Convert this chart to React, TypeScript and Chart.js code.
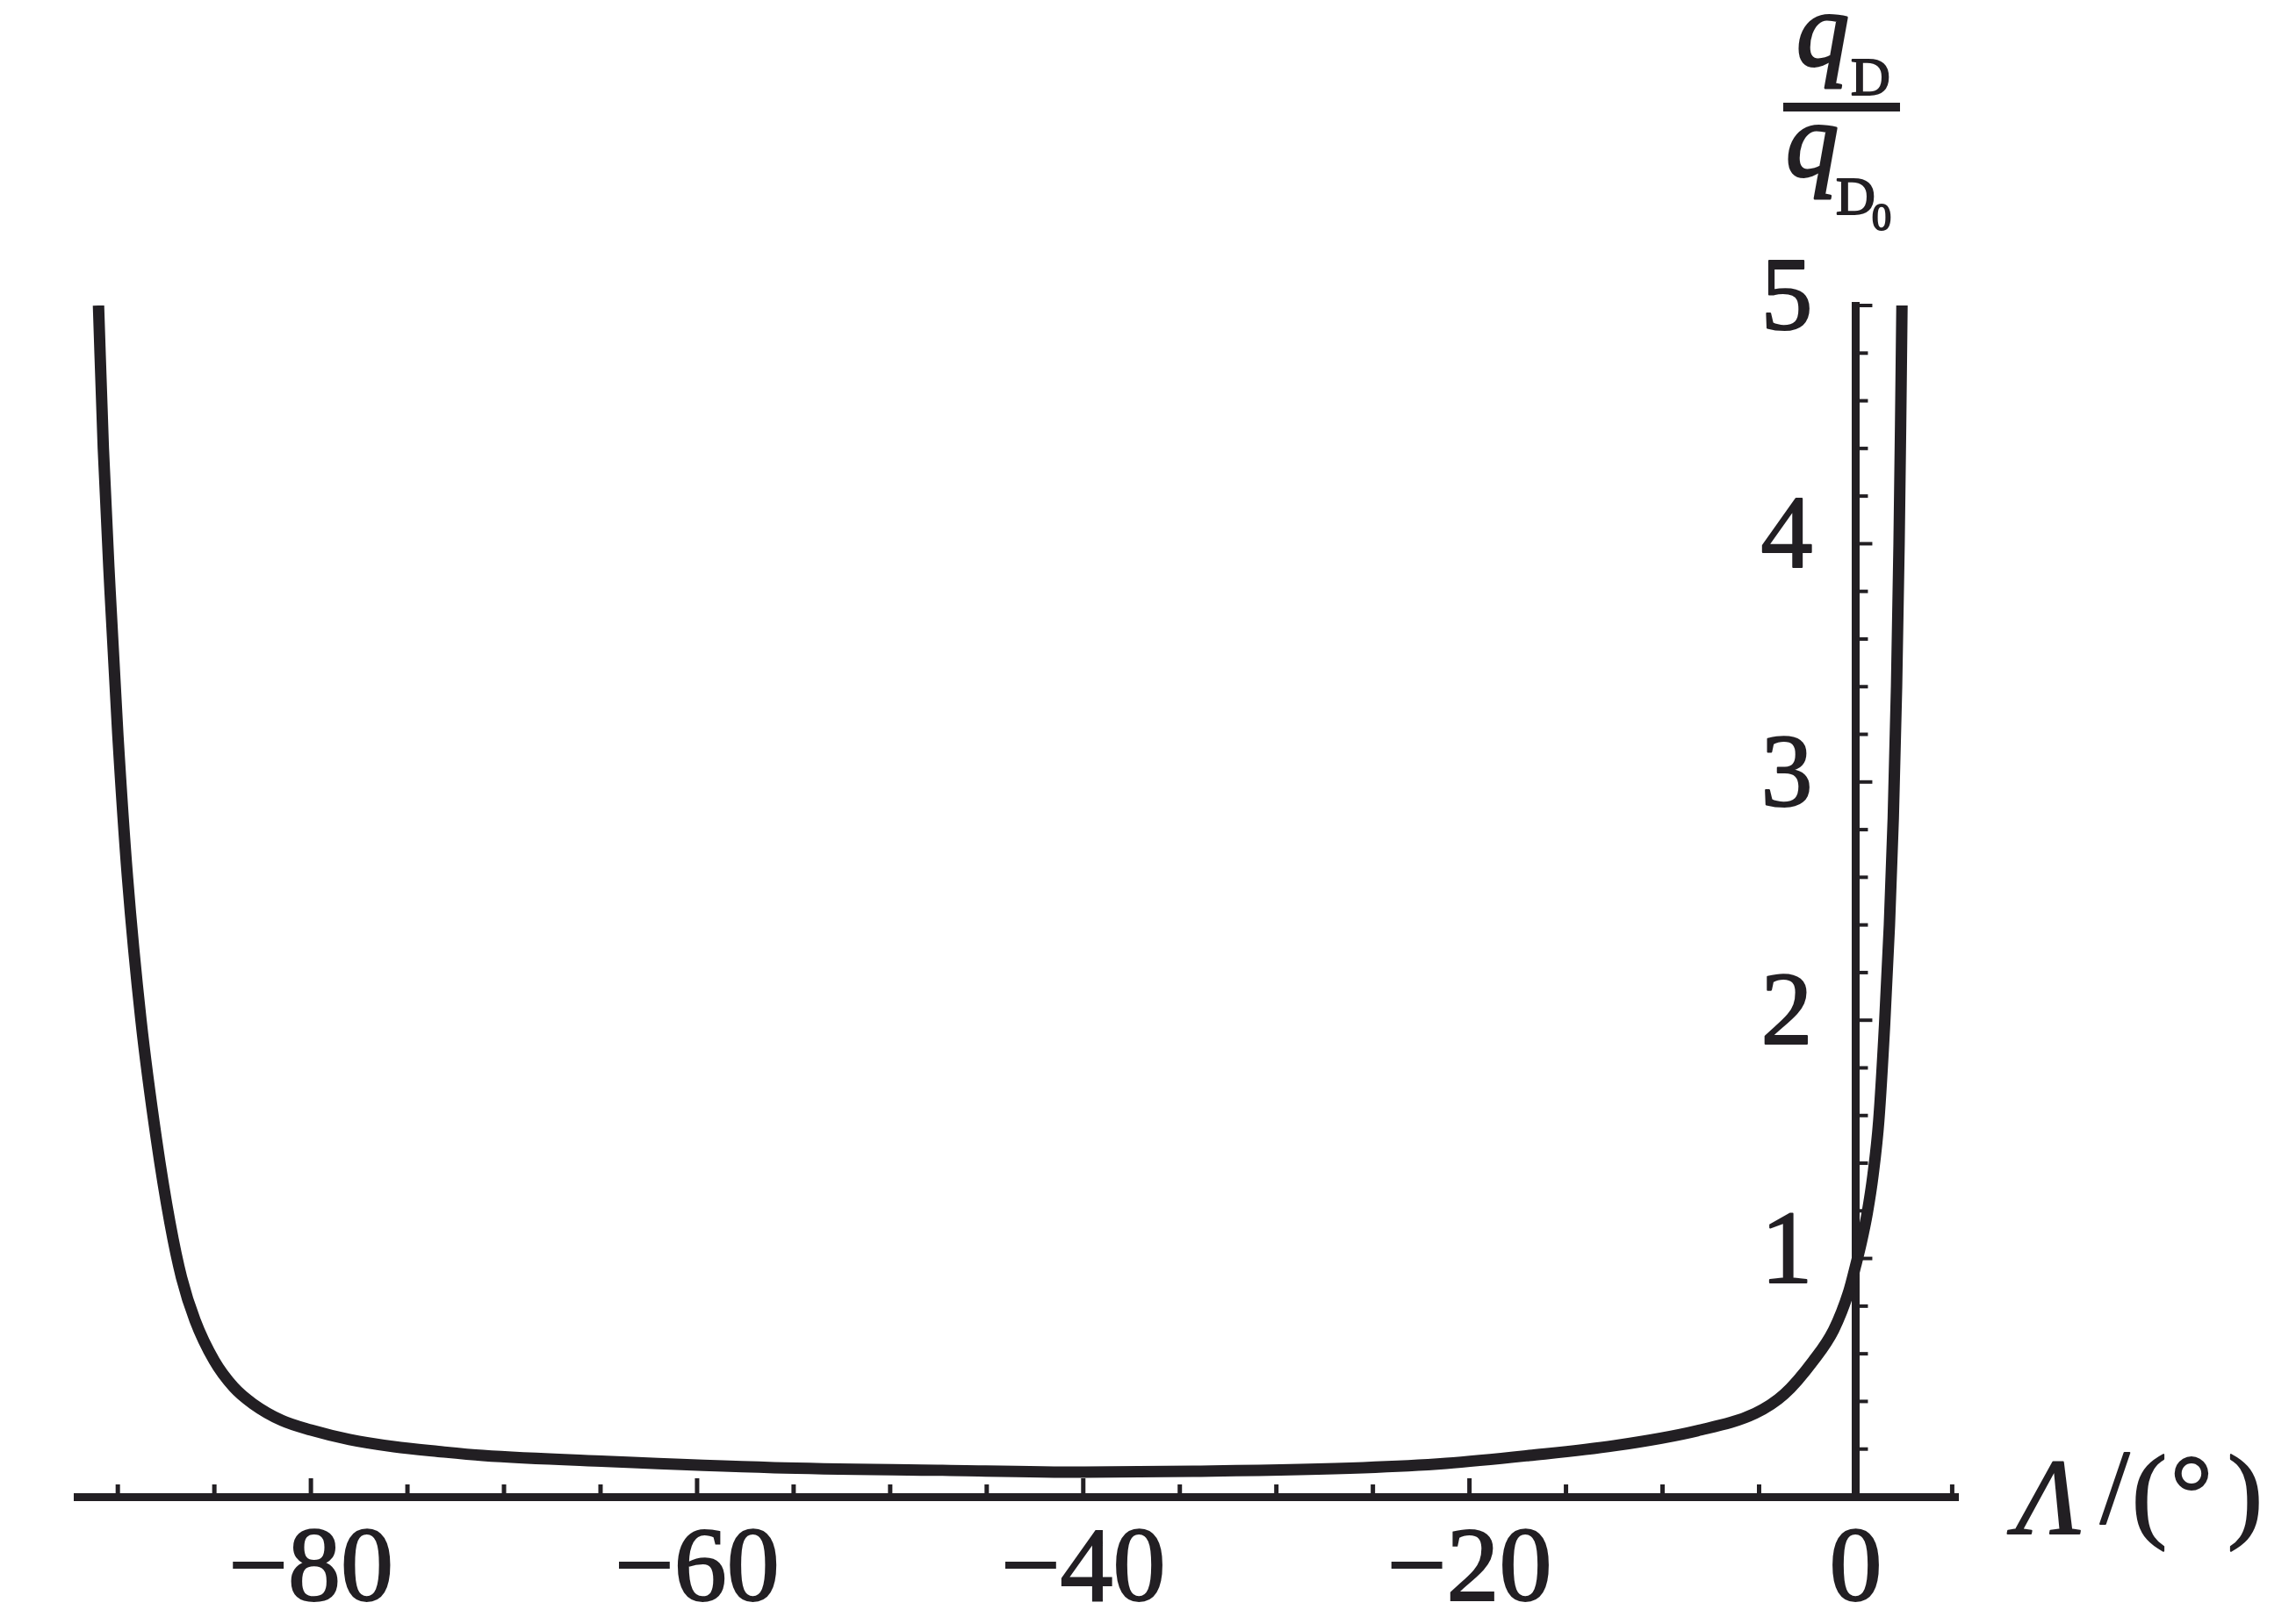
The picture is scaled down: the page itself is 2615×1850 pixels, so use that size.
import React, { useEffect, useRef } from "react";
import { Chart, registerables } from "chart.js";

Chart.register(...registerables);

// Sweep angle Λ (degrees) and q_D / q_D0
const lambdaDeg = [
  -91.0, -90.75, -90.4, -90.0, -89.5, -88.8, -88.0, -87.3, -86.7, -86.0,
  -85.0, -84.0, -83.0, -81.5, -80.0, -78.0, -75.7, -73.4, -71.1, -64.7,
  -56.0, -47.3, -40.0, -34.3, -25.5, -21.2, -16.9, -12.5, -8.2, -5.2,
  -3.7, -2.2, -1.14, -0.36, 0.0, 0.3, 0.6, 0.9, 1.2, 1.5,
  1.75, 1.95, 2.12, 2.25, 2.33, 2.4,
];
const qRatio = [
  5.0, 4.4, 3.8, 3.2, 2.6, 2.0, 1.5, 1.15, 0.92, 0.74,
  0.57, 0.46, 0.39, 0.32, 0.28, 0.24, 0.21, 0.19, 0.173, 0.148,
  0.122, 0.111, 0.103, 0.107, 0.122, 0.14, 0.173, 0.214, 0.277, 0.35,
  0.43, 0.57, 0.7, 0.86, 0.97, 1.07, 1.19, 1.35, 1.58, 1.98,
  2.4, 2.85, 3.4, 4.0, 4.5, 5.0,
];

const xTickLabels = [-80, -60, -40, -20, 0];
const yTickLabels = [1, 2, 3, 4, 5];
const xMinorStep = 5;
const yMinorStep = 0.2;

const INK = "#221f23";
const SERIF = '"Liberation Serif"';

const fmt = (v: number) => (v < 0 ? "\u2212" + Math.abs(v) : String(v));

function inkText(ctx: CanvasRenderingContext2D, s: string, x: number, y: number, sw = 2) {
  ctx.lineWidth = sw;
  ctx.strokeText(s, x, y);
  ctx.fillText(s, x, y);
}

const decorPlugin = {
  id: "decor",
  afterDraw(chart: any) {
    const ctx = chart.ctx as CanvasRenderingContext2D;
    const xs = chart.scales.x;
    const ys = chart.scales.y;
    const axisY = ys.getPixelForValue(0);
    const axisX = xs.getPixelForValue(0);
    ctx.save();
    ctx.strokeStyle = INK;
    ctx.fillStyle = INK;
    ctx.lineCap = "butt";
    ctx.lineJoin = "round";
    // x ticks (inward, upward)
    ctx.lineWidth = 5;
    for (let v = -90; v <= 5.001; v += xMinorStep) {
      const px = xs.getPixelForValue(v);
      const major = Math.abs(v % 20) < 1e-6;
      const len = major ? 21 : 14;
      ctx.beginPath();
      ctx.moveTo(px, axisY);
      ctx.lineTo(px, axisY - len);
      ctx.stroke();
    }
    // y ticks (pointing right)
    ctx.lineWidth = 4;
    for (let i = 1; i <= 25; i++) {
      const v = i * yMinorStep;
      const py = ys.getPixelForValue(v);
      const major = i % 5 === 0;
      const len = major ? 19 : 14;
      ctx.beginPath();
      ctx.moveTo(axisX, py);
      ctx.lineTo(axisX + len, py);
      ctx.stroke();
    }
    // y tick labels
    ctx.font = `118px ${SERIF}`;
    ctx.textAlign = "right";
    ctx.textBaseline = "middle";
    for (const v of yTickLabels) {
      inkText(ctx, String(v), axisX - 49, ys.getPixelForValue(v) - 4);
    }
    // y-axis title: q_D / q_D0
    ctx.textAlign = "left";
    ctx.textBaseline = "alphabetic";
    ctx.font = `italic 120px ${SERIF}`;
    inkText(ctx, "q", 2046, 74, 3);
    ctx.font = `62px ${SERIF}`;
    inkText(ctx, "D", 2108, 108, 2);
    ctx.fillRect(2031, 117, 133, 10);
    ctx.font = `italic 120px ${SERIF}`;
    inkText(ctx, "q", 2034, 200, 3);
    ctx.font = `62px ${SERIF}`;
    inkText(ctx, "D", 2091, 244, 2);
    ctx.font = `44px ${SERIF}`;
    inkText(ctx, "0", 2132, 262, 2);
    // x-axis title: Λ/(° )
    ctx.font = `italic 122px ${SERIF}`;
    inkText(ctx, "\u039B", 2296, 1747);
    ctx.font = `120px ${SERIF}`;
    inkText(ctx, "/", 2392, 1735);
    inkText(ctx, "(", 2428, 1741);
    inkText(ctx, "\u00B0", 2472, 1741);
    inkText(ctx, ")", 2537, 1741);
    ctx.restore();
  },
};

export default function App() {
  const canvasRef = useRef<HTMLCanvasElement | null>(null);

  useEffect(() => {
    document.body.style.margin = "0";
    document.body.style.background = "#ffffff";
    document.body.style.overflow = "hidden";
    const canvas = canvasRef.current;
    if (!canvas) return;
    let chart: Chart | null = null;
    let cancelled = false;

    const build = () => {
      if (cancelled) return;
      const points = lambdaDeg.map((x, i) => ({ x, y: qRatio[i] }));
      chart = new Chart(canvas, {
        type: "scatter",
        data: {
          datasets: [
            {
              data: points,
              showLine: true,
              borderColor: INK,
              borderWidth: 13,
              pointRadius: 0,
              pointHoverRadius: 0,
              cubicInterpolationMode: "monotone",
              borderJoinStyle: "round",
              fill: false,
            } as any,
          ],
        },
        options: {
          responsive: false,
          animation: false,
          devicePixelRatio: 1,
          events: [],
          layout: { padding: { left: 88, right: 385, top: 348, bottom: 0 } },
          plugins: {
            legend: { display: false },
            tooltip: { enabled: false },
            title: { display: false },
          },
          scales: {
            x: {
              type: "linear",
              position: "bottom",
              min: -92.1,
              max: 5.3,
              afterBuildTicks: (scale: any) => {
                scale.ticks = xTickLabels.map((v) => ({ value: v }));
              },
              afterFit: (scale: any) => {
                scale.height = 145;
              },
              grid: { display: true, drawOnChartArea: false, drawTicks: false },
              border: { display: true, color: INK, width: 9 },
              ticks: {
                color: INK,
                padding: 14,
                maxRotation: 0,
                autoSkip: false,
                textStrokeColor: INK,
                textStrokeWidth: 2,
                font: { family: SERIF, size: 120 },
                callback: (v: any) => fmt(Number(v)),
              },
            },
            y: {
              type: "linear",
              position: { x: 0 } as any,
              min: 0,
              max: 5,
              afterBuildTicks: (scale: any) => {
                scale.ticks = yTickLabels.map((v) => ({ value: v }));
              },
              grid: { display: true, drawOnChartArea: false, drawTicks: false },
              border: { display: true, color: INK, width: 9 },
              ticks: { display: false },
            },
          },
        },
        plugins: [decorPlugin],
      });
    };

    const fontsApi: any = (document as any).fonts;
    if (fontsApi && fontsApi.load) {
      Promise.all([
        fontsApi.load(`120px ${SERIF}`, "0123456789\u2212()/\u00B0D"),
        fontsApi.load(`italic 120px ${SERIF}`, "q\u039B"),
      ])
        .catch(() => undefined)
        .then(() => build());
    } else {
      build();
    }

    return () => {
      cancelled = true;
      if (chart) chart.destroy();
    };
  }, []);

  return (
    <div style={{ width: 2615, height: 1850, background: "#ffffff", position: "relative" }}>
      <span
        style={{
          position: "absolute",
          left: -9999,
          top: 0,
          fontFamily: "Liberation Serif",
          fontSize: 20,
        }}
      >
        0 <i>q Λ</i>
      </span>
      <canvas ref={canvasRef} width={2615} height={1850} />
    </div>
  );
}
